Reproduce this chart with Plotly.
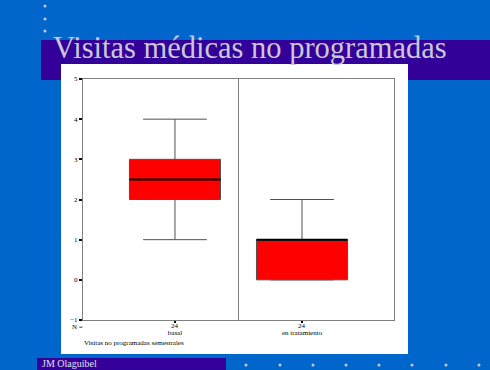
import plotly.graph_objects as go

# ---- data ----
categories = ["basal", "en tratamiento"]
n_values = [24, 24]
q1 = [2, 0]
median = [2.5, 1]
q3 = [3, 1]
lower_whisker = [1, 0]
upper_whisker = [4, 2]
y_ticks = [-1, 0, 1, 2, 3, 4, 5]

title_text = "Visitas médicas no programadas"
axis_caption = "Visitas no programadas semestrales"
author = "JM Olaguibel"

W, H = 490, 370
L, R, T, B = 83, 394, 79, 320  # plot area in pixels
def px(x): return (x - L) / (R - L)
def py(y): return (B - y) / (B - T)

pos = list(range(len(categories)))
box_w = 0.717

fig = go.Figure()
fig.add_trace(go.Box(
    x=pos, q1=q1, median=median, q3=q3,
    lowerfence=lower_whisker, upperfence=upper_whisker,
    width=box_w, whiskerwidth=0.7, boxpoints=False,
    fillcolor="#FF0000", line=dict(color="#505050", width=1),
    showlegend=False, hoverinfo="skip",
))
for i, m in zip(pos, median):
    fig.add_trace(go.Scatter(
        x=[i - box_w / 2, i + box_w / 2], y=[m, m], mode="lines",
        line=dict(color="#000000", width=2), showlegend=False, hoverinfo="skip"))

shapes = []
shapes.append(dict(type="rect", xref="paper", yref="paper", x0=px(41), x1=px(490),
                   y0=py(80), y1=py(40), fillcolor="#330099", line_width=0, layer="below"))
shapes.append(dict(type="rect", xref="paper", yref="paper", x0=px(61), x1=px(408),
                   y0=py(354), y1=py(64), fillcolor="#FFFFFF", line_width=0, layer="below"))
shapes.append(dict(type="rect", xref="paper", yref="paper", x0=px(37), x1=px(226),
                   y0=py(370), y1=py(358), fillcolor="#330099", line_width=0, layer="below"))
dots = [(45, 6), (45, 19), (45, 31)] + [(x, 365) for x in (246, 280, 313, 346, 379, 412, 446, 479)]
for (dx, dy) in dots:
    shapes.append(dict(type="circle", xref="paper", yref="paper",
                       x0=px(dx - 1.5), x1=px(dx + 1.5), y0=py(dy + 1.5), y1=py(dy - 1.5),
                       fillcolor="#C8C8E0", line_width=0, layer="above"))
shapes.append(dict(type="line", xref="x", yref="paper", x0=0.5, x1=0.5, y0=0, y1=1,
                   line=dict(color="#808080", width=1)))

annotations = []
annotations.append(dict(text=title_text, xref="paper", yref="paper", x=px(51), y=py(48),
                        xanchor="left", yanchor="middle", showarrow=False,
                        font=dict(family="Liberation Serif", size=30.5, color="#C8C8D8")))
annotations.append(dict(text=author, xref="paper", yref="paper", x=px(40), y=py(363),
                        xanchor="left", yanchor="middle", showarrow=False,
                        font=dict(family="Liberation Serif", size=10, color="#E0E0F0")))
annotations.append(dict(text="N =", xref="paper", yref="paper", x=px(77), y=py(327),
                        xanchor="center", yanchor="middle", showarrow=False,
                        font=dict(family="Liberation Serif", size=7, color="#000000")))
for i, n in zip(pos, n_values):
    annotations.append(dict(text=str(n), xref="x", yref="paper", x=i, y=py(325.5),
                            xanchor="center", yanchor="middle", showarrow=False,
                            font=dict(family="Liberation Serif", size=7, color="#000000")))
annotations.append(dict(text=axis_caption, xref="paper", yref="paper", x=px(82), y=py(343),
                        xanchor="left", yanchor="middle", showarrow=False,
                        font=dict(family="Liberation Serif", size=7, color="#000000")))

fig.update_layout(
    width=W, height=H,
    margin=dict(l=L, r=W - R, t=T, b=H - B, pad=0),
    paper_bgcolor="#0066CC", plot_bgcolor="#FFFFFF",
    template="none",
    shapes=shapes, annotations=annotations,
    xaxis=dict(range=[-0.724, 1.724], tickvals=pos, ticktext=categories,
               showgrid=False, zeroline=False, showline=True, mirror=True,
               linecolor="#808080", linewidth=1, ticks="outside", ticklen=2,
               tickcolor="#000000", tickwidth=2, automargin=False,
               ticklabelstandoff=4,
               tickfont=dict(family="Liberation Serif", size=7, color="#000000")),
    yaxis=dict(range=[-1, 5], tickvals=y_ticks, showgrid=False, zeroline=False,
               showline=True, mirror=True, linecolor="#808080", linewidth=1,
               ticks="outside", ticklen=3, tickcolor="#000000", tickwidth=2,
               automargin=False,
               tickfont=dict(family="Liberation Serif", size=7, color="#000000")),
)

fig.write_html("out.html", config={"displayModeBar": False},
               post_script="document.body.style.margin='0';")
